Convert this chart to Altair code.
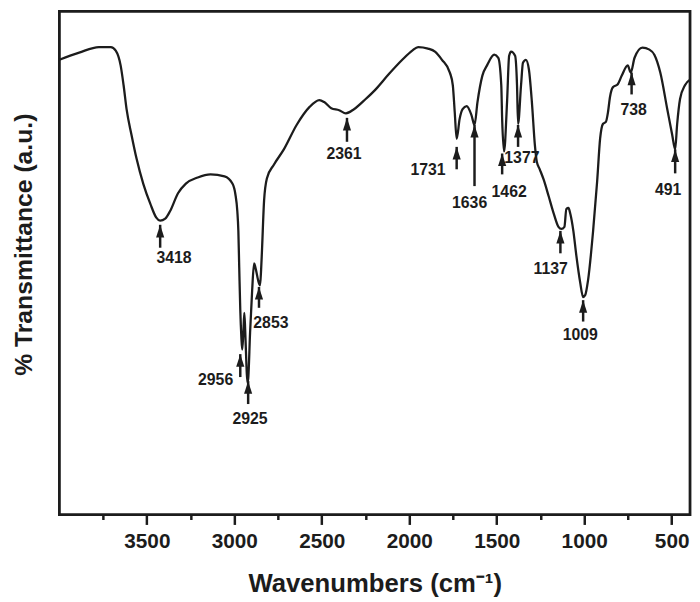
import altair as alt
import pandas as pd

# ---- spectrum ----
wavenumber = [4000, 3887, 3774, 3706, 3678, 3650, 3633, 3616, 3588, 3559,
              3520, 3480, 3446, 3424, 3395, 3367, 3322, 3277, 3209, 3136,
              3056, 3011, 2994, 2983, 2977, 2972, 2966, 2960, 2955, 2949,
              2943, 2938, 2932, 2926, 2921, 2910, 2898, 2887, 2876, 2864,
              2853, 2847, 2842, 2830, 2814, 2774, 2717, 2644, 2571, 2514,
              2486, 2446, 2401, 2362, 2316, 2249, 2192, 2119, 2040, 1983,
              1949, 1893, 1853, 1813, 1768, 1751, 1740, 1729, 1712, 1695,
              1672, 1644, 1627, 1610, 1582, 1554, 1514, 1491, 1474, 1469,
              1458, 1441, 1429, 1418, 1395, 1384, 1378, 1361, 1350, 1333,
              1316, 1299, 1282, 1271, 1254, 1232, 1203, 1175, 1147, 1130,
              1113, 1102, 1090, 1079, 1062, 1045, 1023, 1006, 994, 978,
              949, 926, 909, 893, 876, 864, 853, 836, 808, 785,
              751, 734, 712, 667, 627, 599, 565, 525, 497, 480,
              469, 452, 424, 395]
transmittance = [89.3, 90.7, 91.8, 91.8, 91.1, 88.2, 84.3, 79.6, 74.6, 69.9,
                 64.9, 61.0, 58.3, 57.7, 58.1, 59.6, 63.1, 65.0, 66.2, 66.8,
                 66.4, 65.0, 62.9, 59.6, 55.7, 48.5, 40.2, 35.0, 32.4, 35.3,
                 39.6, 36.3, 30.5, 26.0, 26.6, 35.7, 44.1, 49.3, 48.0, 46.0,
                 45.0, 48.0, 51.8, 61.6, 66.0, 68.7, 71.7, 76.5, 80.0, 81.4,
                 81.0, 79.8, 79.4, 78.8, 79.6, 81.6, 83.5, 86.4, 89.3, 91.1,
                 91.8, 91.5, 90.9, 89.3, 86.8, 84.3, 79.0, 73.8, 77.7, 79.6,
                 80.2, 78.4, 76.5, 81.0, 86.2, 88.3, 90.3, 89.7, 84.3, 77.7,
                 71.3, 81.0, 90.1, 90.9, 90.1, 84.3, 76.7, 84.3, 88.7, 89.3,
                 87.4, 81.0, 72.6, 69.3, 67.8, 65.8, 62.5, 59.2, 56.5, 56.1,
                 56.5, 60.0, 60.2, 59.0, 55.7, 50.9, 45.6, 42.7, 43.1, 46.0,
                 55.7, 65.4, 73.8, 76.7, 77.1, 79.0, 81.9, 83.9, 84.5, 86.2,
                 88.2, 86.8, 89.7, 91.7, 91.3, 90.3, 86.8, 79.6, 74.6, 71.7,
                 76.5, 81.6, 84.3, 85.4]

# ---- peak annotations ----
peak_labels = ["3418", "2956", "2925", "2853", "2361", "1731", "1636",
               "1462", "1377", "1137", "1009", "738", "491"]
arrow_wn = [3424, 2966, 2921, 2859, 2356, 1729, 1627, 1469, 1378, 1136, 1006, 729, 480]
arrow_tip = [56.9, 31.5, 26.2, 44.7, 77.9, 72.2, 76.5, 70.9, 76.5, 55.7, 42.1, 86.8, 71.7]
arrow_base = [52.4, 27.0, 21.7, 40.6, 73.2, 67.8, 64.5, 66.8, 72.2, 51.3, 37.9, 82.5, 67.0]
label_wn = [3345, 3107, 2910, 2791, 2373, 1893, 1655, 1429, 1356, 1192, 1022, 717, 520]
label_t = [50.3, 26.4, 18.8, 37.7, 70.7, 67.6, 61.2, 63.3, 70.1, 48.3, 35.3, 79.4, 63.7]

# ---- axis ----
x_domain = [395, 4000]
y_domain = [0, 98.8]
tick_values = [3750, 3500, 3250, 3000, 2750, 2500, 2250, 2000, 1750, 1500, 1250, 1000, 750, 500]

INK = "#1c1c1c"
FONT = "Liberation Sans"

spec = pd.DataFrame({"wn": wavenumber, "t": transmittance})
peaks = pd.DataFrame({
    "label": peak_labels, "wn": arrow_wn, "tip": arrow_tip, "base": arrow_base,
    "lwn": label_wn, "lt": label_t,
})

xscale = alt.Scale(domain=x_domain, reverse=True, nice=False, zero=False)
yscale = alt.Scale(domain=y_domain, nice=False, zero=False)

x_axis = alt.Axis(
    values=tick_values,
    format="d",
    labelExpr="datum.value % 500 === 0 ? datum.label : ''",
    tickSize={"condition": {"test": "datum.value % 500 === 0", "value": 10}, "value": 5},
    tickWidth=2.5, tickColor=INK, domain=False, grid=False,
    labelFont=FONT, labelFontSize=21, labelFontWeight="bold", labelColor=INK,
    labelPadding=6,
    title="Wavenumbers (cm\u207b\u00b9)",
    titleFont=FONT, titleFontSize=26, titleFontWeight="bold", titleColor=INK,
    titleBaseline="alphabetic", titleY=78,
)
y_axis = alt.Axis(
    labels=False, ticks=False, domain=False, grid=False,
    title="% Transmittance (a.u.)",
    titleFont=FONT, titleFontSize=25, titleFontWeight="bold", titleColor=INK,
    titleAngle=270, titleBaseline="alphabetic", titleAlign="center",
    titleX=-28, titleY=235.5,
)

line = alt.Chart(spec).mark_line(
    color=INK, strokeWidth=2.3, interpolate="monotone"
).encode(
    x=alt.X("wn:Q", scale=xscale, axis=x_axis),
    y=alt.Y("t:Q", scale=yscale, axis=y_axis),
    order=alt.Order("wn:Q", sort="descending"),
)

shafts = alt.Chart(peaks).mark_rule(color=INK, strokeWidth=2.5).encode(
    x=alt.X("wn:Q", scale=xscale),
    y=alt.Y("tip:Q", scale=yscale),
    y2="base:Q",
)

heads = alt.Chart(peaks).mark_point(
    shape="M0,0L0.55,1.7L-0.55,1.7Z", size=225, filled=True,
    color=INK, opacity=1, strokeWidth=0,
).encode(
    x=alt.X("wn:Q", scale=xscale),
    y=alt.Y("tip:Q", scale=yscale),
)

texts = alt.Chart(peaks).mark_text(
    font=FONT, fontSize=16, fontWeight="bold", color=INK,
    align="center", baseline="middle",
).encode(
    x=alt.X("lwn:Q", scale=xscale),
    y=alt.Y("lt:Q", scale=yscale),
    text="label:N",
)

chart = alt.layer(line, shafts, heads, texts).properties(
    width=638, height=509,
    autosize=alt.AutoSizeParams(type="none"),
    padding={"left": 52, "top": 0, "right": 2, "bottom": 85},
    background="white",
).configure_view(
    stroke=INK, strokeWidth=2.8,
)

chart.save("out.html", embed_options={"renderer": "svg", "actions": False})
